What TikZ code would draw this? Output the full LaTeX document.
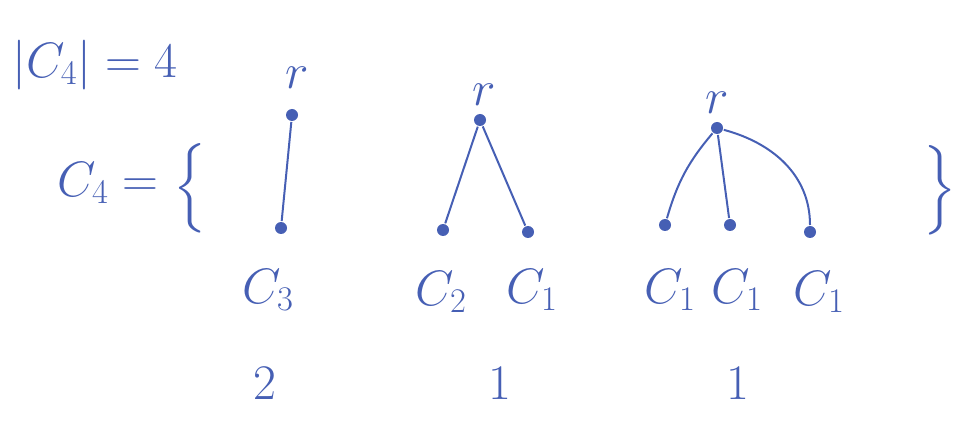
\documentclass[tikz,border=0pt]{standalone}
\usepackage{amsmath}
\definecolor{tinta}{RGB}{70,95,180}
\begin{document}
\begin{tikzpicture}[x=0.5pt, y=-0.5pt, line width=1pt, tinta,
  punto/.style={circle, fill=tinta, inner sep=0pt, minimum size=6pt},
  texto/.style={text=tinta, font=\fontsize{26}{30}\selectfont, inner sep=1pt}]
\useasboundingbox (0,0) rectangle (963,427);
\node[texto] (card) at (95,65)  {$\lvert C_4\rvert = 4$};
\node[texto] (def)  at (108,183) {$C_4 =$};
\node[texto] (abre) at (190,188) {$\Big\{$};
\node[texto] (cierra) at (940,190) {$\Big\}$};
% primer arbol
\node[punto] (r1) at (292,115) {};
\node[punto] (a1) at (281,228) {};
\node[texto] at (297,78) {$r$};
\node[texto] at (268,290) {$C_3$};
\node[texto] (n1) at (265,383) {$2$};
\draw (r1) -- (a1);
% segundo arbol
\node[punto] (r2) at (480,120) {};
\node[punto] (b1) at (443,230) {};
\node[punto] (b2) at (528,232) {};
\node[texto] at (484,95) {$r$};
\node[texto] at (441,292) {$C_2$};
\node[texto] at (532,290) {$C_1$};
\node[texto] (n2) at (500,383) {$1$};
\draw (r2) -- (b1);
\draw (r2) -- (b2);
% tercer arbol
\node[punto] (r3) at (717,128) {};
\node[punto] (c1) at (665,225) {};
\node[punto] (c2) at (730,225) {};
\node[punto] (c3) at (810,232) {};
\node[texto] at (717,103) {$r$};
\node[texto] at (670,290) {$C_1$};
\node[texto] at (737,290) {$C_1$};
\node[texto] at (819,292) {$C_1$};
\node[texto] (n3) at (738,383) {$1$};
\draw (r3) to[bend right=12] (c1);
\draw (r3) -- (c2);
\draw (r3) to[out=-15, in=90] (c3);
\end{tikzpicture}
\end{document}
